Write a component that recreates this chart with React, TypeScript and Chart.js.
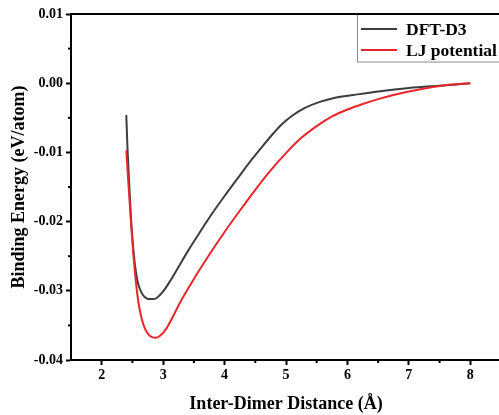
import React, { useEffect, useRef } from "react";
import { Chart, registerables } from "chart.js";

Chart.register(...registerables);

const dftX = [2.40, 2.42, 2.45, 2.48, 2.52, 2.56, 2.60, 2.65, 2.70, 2.76, 2.83, 2.90, 3.00, 3.12, 3.24, 3.40, 3.60, 3.80, 4.00, 4.20, 4.40, 4.60, 4.80, 4.95, 5.10, 5.30, 5.55, 5.80, 6.10, 6.50, 7.00, 7.60, 8.00];
const dftY = [-0.0046, -0.0095, -0.0150, -0.0200, -0.0245, -0.0275, -0.0292, -0.0303, -0.0309, -0.0312, -0.0312, -0.0310, -0.0301, -0.0285, -0.0267, -0.0243, -0.0215, -0.0188, -0.0163, -0.0139, -0.0115, -0.0093, -0.0072, -0.0058, -0.0047, -0.0036, -0.0027, -0.0021, -0.0017, -0.0012, -0.0007, -0.0003, 0.0000];

const ljX = [2.40, 2.44, 2.48, 2.52, 2.56, 2.60, 2.65, 2.70, 2.76, 2.82, 2.88, 2.95, 3.05, 3.15, 3.30, 3.50, 3.75, 4.00, 4.25, 4.50, 4.75, 5.00, 5.25, 5.50, 5.75, 6.00, 6.25, 6.50, 6.75, 7.00, 7.30, 7.60, 8.00];
const ljY = [-0.0097, -0.0152, -0.0206, -0.0252, -0.0290, -0.0318, -0.0340, -0.0354, -0.0363, -0.0367, -0.0368, -0.0365, -0.0355, -0.0339, -0.0313, -0.0283, -0.0248, -0.0215, -0.0184, -0.0154, -0.0126, -0.0101, -0.0079, -0.0062, -0.0048, -0.0038, -0.0030, -0.0023, -0.0017, -0.0012, -0.0007, -0.0003, 0.0000];

const seriesLabels = ["DFT-D3", "LJ potential"];
const seriesColors = ["#3d3d3d", "#e8262c"];

const xMajorTicks = [2, 3, 4, 5, 6, 7, 8];
const xMinorTicks = [2.5, 3.5, 4.5, 5.5, 6.5, 7.5];
const yMajorTicks = [-0.04, -0.03, -0.02, -0.01, 0, 0.01];
const yMinorTicks = [-0.035, -0.025, -0.015, -0.005, 0.005];

const xTitle = "Inter-Dimer Distance (Å)";
const yTitle = "Binding Energy (eV/atom)";

const FONT = "'Liberation Serif', 'Times New Roman', serif";

const framePlugin = {
  id: "frameAndLegend",
  afterDraw(chart: any) {
    const ctx = chart.ctx;
    const ca = chart.chartArea;
    const xs = chart.scales.x;
    const ys = chart.scales.y;
    ctx.save();
    // minor ticks
    ctx.strokeStyle = "#000";
    ctx.lineWidth = 2;
    xMinorTicks.forEach((v) => {
      const px = xs.getPixelForValue(v);
      ctx.beginPath();
      ctx.moveTo(px, ca.bottom);
      ctx.lineTo(px, ca.bottom + 3);
      ctx.stroke();
    });
    yMinorTicks.forEach((v) => {
      const py = ys.getPixelForValue(v);
      ctx.beginPath();
      ctx.moveTo(ca.left, py);
      ctx.lineTo(ca.left - 3, py);
      ctx.stroke();
    });
    // legend
    const bx = 357.5;
    const by = ca.top;
    const bw = 170;
    const bh = 48;
    ctx.fillStyle = "#fff";
    ctx.fillRect(bx, by, bw, bh);
    ctx.strokeStyle = "#8a8a8a";
    ctx.lineWidth = 1;
    ctx.strokeRect(bx, by, bw, bh);
    ctx.font = `bold 17.5px ${FONT}`;
    ctx.textBaseline = "middle";
    ctx.textAlign = "left";
    chart.data.datasets.forEach((ds: any, i: number) => {
      const cy = by + 15 + i * 21;
      ctx.strokeStyle = ds.borderColor;
      ctx.lineWidth = 2;
      ctx.beginPath();
      ctx.moveTo(361, cy);
      ctx.lineTo(397, cy);
      ctx.stroke();
      ctx.fillStyle = "#000";
      ctx.fillText(ds.label, 406, cy + 1);
    });
    // top and right frame
    ctx.strokeStyle = "#000";
    ctx.lineWidth = 2;
    ctx.beginPath();
    ctx.moveTo(ca.left - 1, ca.top);
    ctx.lineTo(ca.right, ca.top);
    ctx.lineTo(ca.right, ca.bottom);
    ctx.stroke();
    ctx.restore();
  },
};

export default function App() {
  const ref = useRef<HTMLCanvasElement | null>(null);
  useEffect(() => {
    if (!ref.current) return;
    const chart = new Chart(ref.current, {
      type: "line",
      data: {
        datasets: [
          {
            label: seriesLabels[0],
            data: dftX.map((x, i) => ({ x, y: dftY[i] })),
            borderColor: seriesColors[0],
            backgroundColor: seriesColors[0],
            borderWidth: 2,
            pointRadius: 0,
            cubicInterpolationMode: "monotone",
            order: 1,
          },
          {
            label: seriesLabels[1],
            data: ljX.map((x, i) => ({ x, y: ljY[i] })),
            borderColor: seriesColors[1],
            backgroundColor: seriesColors[1],
            borderWidth: 2,
            pointRadius: 0,
            cubicInterpolationMode: "monotone",
            order: 0,
          },
        ],
      },
      options: {
        animation: false,
        responsive: false,
        layout: { padding: { top: 14, right: 3, left: 0, bottom: 0 } },
        plugins: { legend: { display: false }, tooltip: { enabled: false } },
        scales: {
          x: {
            type: "linear",
            min: 1.5,
            max: 8.5,
            afterBuildTicks: (s: any) => {
              s.ticks = xMajorTicks.map((v) => ({ value: v }));
            },
            afterFit: (s: any) => {
              s.height = 55;
            },
            grid: {
              display: true,
              drawOnChartArea: false,
              drawTicks: true,
              tickLength: 5,
              tickWidth: 2,
              tickColor: "#000",
            },
            border: { display: true, color: "#000", width: 2 },
            ticks: {
              autoSkip: false,
              maxRotation: 0,
              padding: 2,
              color: "#000",
              font: { family: FONT, size: 14, weight: "bold" },
              callback: (v: any) => String(v),
            },
            title: {
              display: true,
              text: xTitle,
              color: "#000",
              font: { family: FONT, size: 18, weight: "bold" },
              padding: { top: 2, bottom: 0 },
            },
          },
          y: {
            type: "linear",
            min: -0.04,
            max: 0.01,
            afterBuildTicks: (s: any) => {
              s.ticks = yMajorTicks.map((v) => ({ value: v }));
            },
            afterFit: (s: any) => {
              s.width = 71;
            },
            grid: {
              display: true,
              drawOnChartArea: false,
              drawTicks: true,
              tickLength: 5,
              tickWidth: 2,
              tickColor: "#000",
            },
            border: { display: true, color: "#000", width: 2 },
            ticks: {
              autoSkip: false,
              padding: 3,
              color: "#000",
              font: { family: FONT, size: 14, weight: "bold" },
              callback: (v: any) => Number(v).toFixed(2),
            },
            title: {
              display: true,
              text: yTitle,
              color: "#000",
              font: { family: FONT, size: 18, weight: "bold" },
              padding: { top: 9, bottom: 0 },
            },
          },
        },
      },
      plugins: [framePlugin],
    });
    return () => chart.destroy();
  }, []);
  return (
    <div style={{ position: "fixed", left: 0, top: 0, width: 499, height: 415, overflow: "hidden", background: "#fff" }}>
      <canvas ref={ref} width={504} height={415} style={{ display: "block", width: 504, height: 415 }} />
    </div>
  );
}
